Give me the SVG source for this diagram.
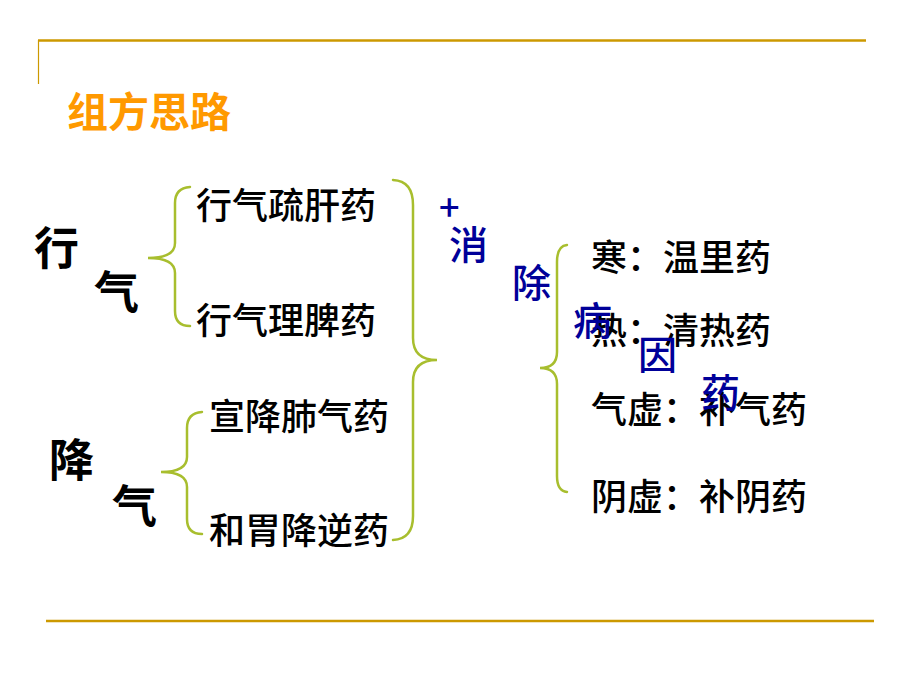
<svg xmlns="http://www.w3.org/2000/svg" width="920" height="690" viewBox="0 0 920 690">
<style>
.frame{stroke:#CC9900;fill:none}
.brace{stroke:#A8BE2E;stroke-width:2.5;fill:none;stroke-linecap:round}
.t{font-family:"Noto Sans CJK SC","Liberation Sans",sans-serif;font-size:36px;font-weight:500;fill:#000}
.big{font-family:"Noto Sans CJK SC","Liberation Sans",sans-serif;font-size:45px;font-weight:bold;fill:#000}
.blue{font-family:"Noto Sans CJK SC","Liberation Sans",sans-serif;font-size:39px;font-weight:500;fill:#000099}
.title{font-family:"Noto Sans CJK SC","Liberation Sans",sans-serif;font-size:41px;font-weight:bold;fill:#FF9900}
</style>
<rect width="920" height="690" fill="#fff"/>
<g id="frame">
<line class="frame" x1="38" y1="40.5" x2="866" y2="40.5" stroke-width="2.5"/>
<line class="frame" x1="38.5" y1="40" x2="38.5" y2="84" stroke-width="1.2"/>
<line class="frame" x1="46" y1="621" x2="874" y2="621" stroke-width="2.5"/>
</g>
<g id="title"><text class="title" x="67" y="127">组方思路</text></g>
<g id="xingqi"><text class="big" x="34" y="265">行</text><text class="big" x="94" y="309">气</text></g>
<g id="jiangqi"><text class="big" x="49" y="477">降</text><text class="big" x="112" y="523">气</text></g>
<g id="n1"><text class="t" x="196" y="219">行气疏肝药</text></g>
<g id="n2"><text class="t" x="196" y="334">行气理脾药</text></g>
<g id="n3"><text class="t" x="209" y="430">宣降肺气药</text></g>
<g id="n4"><text class="t" x="209" y="544">和胃降逆药</text></g>
<g id="r1"><text class="t" x="591" y="271">寒：温里药</text></g>
<g id="r2"><text class="t" x="591" y="344">热：清热药</text></g>
<g id="r3"><text class="t" x="591" y="423">气虚：补气药</text></g>
<g id="r4"><text class="t" x="591" y="510">阴虚：补阴药</text></g>
<g id="mid">
<text class="blue" x="439" y="221" style="font-size:36px">+</text>
<text class="blue" x="449" y="259">消</text>
<text class="blue" x="512" y="297">除</text>
<text class="blue" x="573" y="335">病</text>
<text class="blue" x="638" y="369">因</text>
<text class="blue" x="701" y="407">药</text>
</g>
<g id="connectors">
<path class="brace" d="M190,187 Q175,188 175,203 L175,243 Q175,258 148,258 Q175,258 175,273 L175,311 Q175,326 190,326"/>
<path class="brace" d="M202,412 Q187,413 187,428 L187,457 Q187,472 161,472 Q187,472 187,487 L187,519 Q187,534 202,534"/>
<path class="brace" d="M393,180 Q413,181 413,205 L413,338 Q413,360 437,360 Q413,360 413,382 L413,516 Q413,539 393,540"/>
<path class="brace" d="M567,245 Q557,246 557,262 L557,352 Q557,368 540,368 Q557,368 557,384 L557,476 Q557,491 567,492"/>
</g>
</svg>
